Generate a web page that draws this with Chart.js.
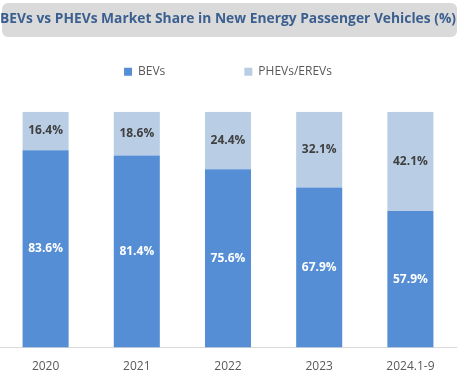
<!DOCTYPE html>
<html>
<head>
<meta charset="utf-8">
<script src="https://cdn.jsdelivr.net/npm/chart.js"></script>
<style>
  html, body { margin: 0; padding: 0; background: #fff; }
  #wrap { width: 462px; height: 374px; }
</style>
</head>
<body>
<div id="wrap"><canvas id="shareChart" width="462" height="374"></canvas></div>
<script>
// data
const years = ['2020', '2021', '2022', '2023', '2024.1-9'];
const bevShare = [83.6, 81.4, 75.6, 67.9, 57.9];
const phevShare = [16.4, 18.6, 24.4, 32.1, 42.1];

const FONT = "'Open Sans', 'Liberation Sans', sans-serif";

// grey rounded box behind the title
const titleBox = {
  id: 'titleBox',
  beforeDraw(chart) {
    const c = chart.ctx;
    c.save();
    c.fillStyle = '#dadada';
    c.beginPath();
    c.roundRect(2, 3, 455, 34, 6);
    c.fill();
    c.restore();
  }
};

// percent labels in the middle of each segment
const segLabels = {
  id: 'segLabels',
  afterDatasetsDraw(chart) {
    const c = chart.ctx;
    c.save();
    c.font = "bold 12px " + FONT;
    c.textAlign = 'center';
    c.textBaseline = 'middle';
    chart.data.datasets.forEach((ds, i) => {
      const meta = chart.getDatasetMeta(i);
      c.fillStyle = i === 0 ? '#ffffff' : '#404040';
      meta.data.forEach((bar, j) => {
        c.fillText(ds.data[j].toFixed(1) + '%', bar.x, (bar.y + bar.base) / 2);
      });
    });
    c.restore();
  }
};

const ctx = document.getElementById('shareChart').getContext('2d');
const shareChart = new Chart(ctx, {
  type: 'bar',
  data: {
    labels: years,
    datasets: [
      {
        label: 'BEVs',
        data: bevShare,
        backgroundColor: '#558ed5'
      },
      {
        label: 'PHEVs/EREVs',
        data: phevShare,
        backgroundColor: '#b9cde5'
      }
    ]
  },
  options: {
    responsive: false,
    animation: false,
    layout: { padding: { left: 0, right: 6, top: 0, bottom: -12 } },
    datasets: {
      bar: { barPercentage: 0.505, categoryPercentage: 1 }
    },
    plugins: {
      title: {
        display: true,
        text: 'BEVs vs PHEVs Market Share in New Energy Passenger Vehicles (%)',
        color: '#3b5f8f',
        font: { family: FONT, size: 14.7, weight: 'bold' },
        padding: { top: 10, bottom: 7 }
      },
      // empty spacer between legend and bars
      subtitle: {
        display: true,
        text: '',
        weight: 500,
        font: { size: 10 },
        padding: { top: 12, bottom: 0 }
      },
      legend: {
        position: 'top',
        labels: {
          color: '#595959',
          font: { family: FONT, size: 12 },
          boxWidth: 8,
          boxHeight: 8,
          padding: 31,
          generateLabels(chart) {
            const items = Chart.defaults.plugins.legend.labels.generateLabels(chart);
            // widen the gap between the two entries
            items[0].text = items[0].text + '\u2003\u2003\u2003\u2003';
            return items;
          }
        }
      },
      tooltip: { enabled: false }
    },
    scales: {
      x: {
        stacked: true,
        grid: { drawOnChartArea: false, drawTicks: false },
        border: { display: true, color: '#d9d9d9', width: 1 },
        ticks: { color: '#595959', font: { family: FONT, size: 12 }, padding: 12 }
      },
      y: {
        stacked: true,
        display: false,
        min: 0,
        max: 100
      }
    }
  },
  plugins: [titleBox, segLabels]
});
</script>
</body>
</html>
